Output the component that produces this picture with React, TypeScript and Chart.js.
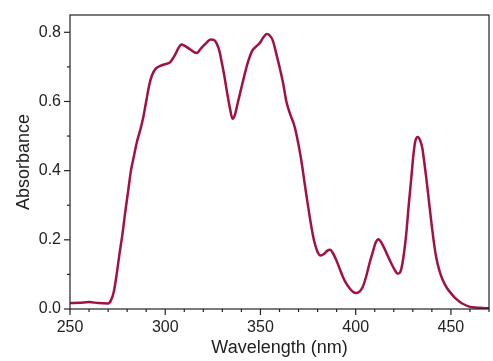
import React, { useEffect, useRef } from "react";
import { Chart, registerables } from "chart.js";

Chart.register(...registerables);

const wavelengths = [
  250, 255, 260, 265, 270, 271.5, 273, 274.5, 276, 277.5, 279, 280.5, 282, 283.5, 285, 287, 288.5, 290,
  291.5, 293, 295, 298, 300, 302.5, 305, 307, 308.5, 310.5, 313, 316.5, 319, 321, 324, 325.5, 327,
  328.5, 329.5, 331, 332.5, 334, 335.3, 336.5, 338, 340, 342, 343.5, 345.5, 347.5, 349.5, 351.5, 353.3,
  355, 356.5, 358, 360, 362, 363.6, 365.5, 368, 370.5, 372, 373.2, 374.5, 376, 377.5, 378.5, 380,
  381.5, 383.5, 385, 386.6, 388, 389.8, 391.5, 393.2, 395, 396.8, 398.5, 400.3, 402, 403.8, 405.5,
  407.3, 409, 410.5, 412, 413.5, 415, 417, 418.6, 420.5, 422.1, 423.5, 424.5, 426.4, 428, 429.1,
  430.3, 431.3, 432.6, 434, 435, 436, 437, 438.5, 439.6, 441, 442.2, 444, 445.7, 448, 450, 452,
  454.4, 457, 459.6, 463, 466.6, 470,
];

const absorbance = [
  0.017, 0.018, 0.02, 0.017, 0.016, 0.025, 0.05, 0.1, 0.16, 0.215, 0.28, 0.34, 0.4, 0.44, 0.48, 0.52, 0.555, 0.6,
  0.645, 0.675, 0.695, 0.704, 0.708, 0.713, 0.733, 0.755, 0.765, 0.76, 0.751, 0.74, 0.755, 0.766, 0.779, 0.778, 0.768,
  0.745, 0.718, 0.675, 0.625, 0.58, 0.55, 0.56, 0.594, 0.64, 0.685, 0.715, 0.745, 0.758, 0.768, 0.785, 0.795,
  0.79, 0.776, 0.745, 0.7, 0.65, 0.6, 0.565, 0.526, 0.46, 0.41, 0.363, 0.315, 0.262, 0.215, 0.19, 0.165,
  0.155, 0.16, 0.168, 0.171, 0.162, 0.142, 0.118, 0.094, 0.074, 0.06, 0.05, 0.046, 0.05, 0.065, 0.094,
  0.133, 0.165, 0.192, 0.202, 0.192, 0.176, 0.152, 0.133, 0.113, 0.102, 0.108, 0.13, 0.209, 0.31, 0.373,
  0.445, 0.485, 0.497, 0.485, 0.465, 0.425, 0.382, 0.31, 0.257, 0.195, 0.152, 0.11, 0.084, 0.06, 0.046, 0.033,
  0.022, 0.013, 0.007, 0.004, 0.003, 0.002,
];

const xLabel = "Wavelength (nm)";
const yLabel = "Absorbance";

const frameAndTicks = {
  id: "frameAndTicks",
  afterDraw(chart: any) {
    const { ctx, chartArea, scales } = chart;
    ctx.save();
    ctx.strokeStyle = "#222";
    ctx.lineWidth = 1.2;
    ctx.strokeRect(chartArea.left, chartArea.top, chartArea.right - chartArea.left, chartArea.bottom - chartArea.top);
    const xs = scales.x;
    xs.ticks.forEach((t: any) => {
      const px = xs.getPixelForValue(t.value);
      const len = Math.round(t.value) % 50 === 0 ? 6 : 3;
      ctx.beginPath();
      ctx.moveTo(px, chartArea.bottom);
      ctx.lineTo(px, chartArea.bottom + len);
      ctx.stroke();
    });
    const ys = scales.y;
    ys.ticks.forEach((t: any) => {
      const py = ys.getPixelForValue(t.value);
      const len = Math.round(t.value * 10) % 2 === 0 ? 6 : 3;
      ctx.beginPath();
      ctx.moveTo(chartArea.left, py);
      ctx.lineTo(chartArea.left - len, py);
      ctx.stroke();
    });
    ctx.restore();
  },
};

export default function App() {
  const ref = useRef<HTMLCanvasElement>(null);
  useEffect(() => {
    if (!ref.current) return;
    const font = "'Liberation Sans', Arial, Helvetica, sans-serif";
    const chart = new Chart(ref.current, {
      type: "line",
      data: {
        datasets: [
          {
            data: wavelengths.map((w, i) => ({ x: w, y: absorbance[i] })),
            borderColor: "#a3123f",
            borderWidth: 2.5,
            pointRadius: 0,
            cubicInterpolationMode: "monotone",
            fill: false,
          },
        ],
      },
      options: {
        animation: false,
        responsive: false,
        maintainAspectRatio: false,
        layout: { padding: { top: 15, right: 4, left: 0, bottom: 0 } },
        plugins: { legend: { display: false }, tooltip: { enabled: false } },
        scales: {
          x: {
            type: "linear",
            min: 250,
            max: 470,
            grid: { display: false, drawTicks: false },
            border: { display: false },
            afterFit: (s: any) => {
              s.height = 52;
              s.paddingLeft = 0;
              s.paddingRight = 0;
            },
            ticks: {
              stepSize: 10,
              autoSkip: false,
              maxRotation: 0,
              includeBounds: false,
              padding: 9,
              color: "#222",
              font: { family: font, size: 16 },
              callback: (v: any) => (Math.round(v) % 50 === 0 ? String(Math.round(v)) : ""),
            },
            title: {
              display: true,
              text: xLabel,
              color: "#222",
              font: { family: font, size: 18 },
              padding: { top: 0, bottom: 2 },
            },
          },
          y: {
            type: "linear",
            min: 0,
            max: 0.85,
            grid: { display: false, drawTicks: false },
            border: { display: false },
            afterFit: (s: any) => {
              s.width = 70;
              s.paddingTop = 0;
              s.paddingBottom = 0;
            },
            ticks: {
              stepSize: 0.1,
              autoSkip: false,
              includeBounds: false,
              padding: 9,
              color: "#222",
              font: { family: font, size: 16 },
              callback: (v: any) => (Math.round(v * 10) % 2 === 0 ? Number(v).toFixed(1) : ""),
            },
            title: {
              display: true,
              text: yLabel,
              color: "#222",
              font: { family: font, size: 18 },
              padding: { top: 13, bottom: 0 },
            },
          },
        },
      },
      plugins: [frameAndTicks],
    });
    return () => chart.destroy();
  }, []);
  return (
    <div style={{ position: "fixed", left: 0, top: 0, width: 493, height: 361, background: "#fff" }}>
      <canvas ref={ref} width={493} height={361} style={{ width: 493, height: 361 }} />
    </div>
  );
}
